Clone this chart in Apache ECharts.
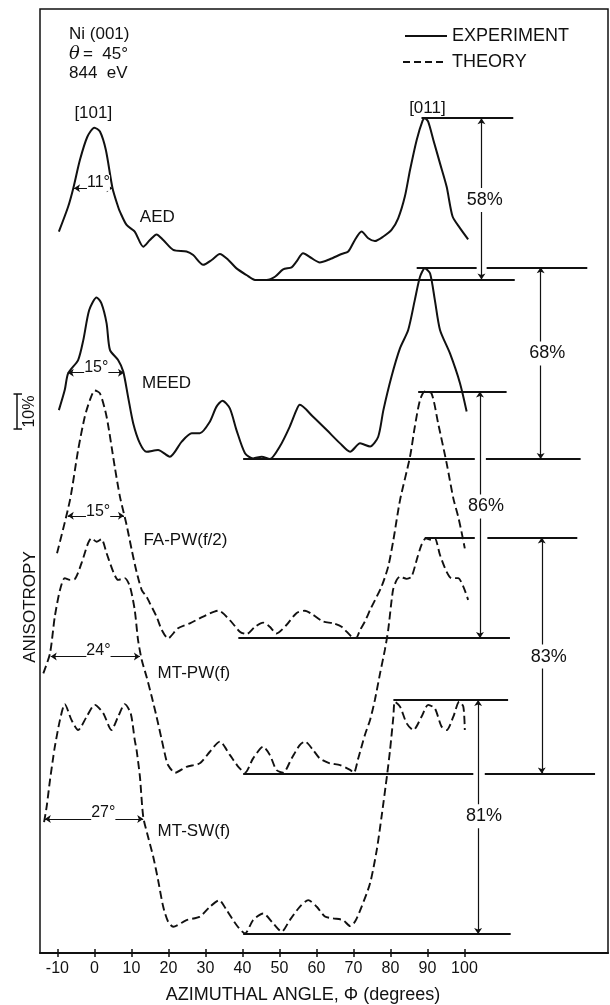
<!DOCTYPE html>
<html>
<head>
<meta charset="utf-8">
<title>Ni(001) azimuthal anisotropy</title>
<script src="https://cdn.jsdelivr.net/npm/echarts@6/dist/echarts.min.js"></script>
<style>
  html, body { margin: 0; padding: 0; background: #fff; }
  #myChart { width: 610px; height: 1005px; }
</style>
</head>
<body>
<div id="myChart"></div>
<script>
  // azimuthal angle ticks (degrees)
  const angleTicks = [-10, 0, 10, 20, 30, 40, 50, 60, 70, 80, 90, 100];

  // curves: [angle, anisotropy] (curves are stacked with an offset, units of %)
  const aed = [[-9.6,206.1],[-7.1,213.2],[-5.7,218.5],[-3.9,226.6],[-1.9,233.2],[0,235.8],[1.5,234.7],[3.1,229.4],[4.9,218.5],[6.4,213.2],[6.9,211.8],[8.7,208],[10.9,206.1],[13.2,201.8],[15,203.7],[16.8,205.3],[18.6,203.7],[21.3,200.9],[24.9,200.4],[26.7,199.4],[29.4,196.6],[31.7,198],[33.9,199.7],[36.2,198],[38.4,195.6],[41.1,193.7],[43.4,192.3],[46.5,192.3],[48.8,193.2],[51,195.3],[53.3,195.9],[54.6,197.5],[56.4,199.9],[58.7,198.5],[60.9,197.3],[63.6,198.2],[66.8,199.7],[68.6,200.4],[70.4,203.7],[72.2,206.1],[74,204.2],[75.8,203.4],[78.1,204.7],[80.3,206.6],[82.1,209.9],[83.9,216.1],[85.3,223.7],[87.1,232.3],[88.7,237.8],[89.3,238.5],[90.2,237.5],[91.6,232.3],[93.4,225.6],[95.2,218.9],[96.8,210.4],[98.8,207.1],[101,203.9]];
  const meed = [[-9.6,155.1],[-8.0,160.9],[-7.1,165.6],[-4.4,169.4],[-3.0,175.1],[-1.4,183.7],[0.6,187.3],[1.9,185.6],[3.3,179.9],[4.2,172.3],[6.4,169.4],[7.8,166.1],[9.1,158.9],[10.5,151.3],[12.3,145.6],[14.1,143.2],[17.2,143.7],[20.4,141.8],[23.6,146.1],[26.3,148.5],[28.5,148.5],[31.2,151.8],[33.0,156.1],[34.6,157.8],[36.6,155.6],[38.4,149.4],[40.7,142.8],[42.9,141.3],[45.2,141.8],[47.4,141.1],[50.1,144.7],[52.8,150.4],[54.6,155.1],[55.5,156.6],[59.1,153.2],[62.8,149.4],[66.4,145.6],[69.1,143.2],[71.8,145.6],[74.5,144.7],[76.7,147.5],[78.1,155.1],[80.3,164.7],[82.6,172.8],[84.8,178],[86.6,186.6],[88.0,193.2],[89.3,195.6],[90.7,194.2],[92.0,186.6],[93.4,178],[96.1,171.3],[98.8,162.8],[100.6,154.7]];
  const faPw = [[-10.1,114.2],[-6.6,129.4],[-4.4,143.7],[-2.6,153.2],[-1.2,158],[0.1,160.7],[1.5,159.9],[3.3,153.2],[5.5,138.9],[6.9,130.4],[8.7,122.3],[10.1,115.1],[11.4,108.9],[12.8,103.7],[14.1,101.8],[15,99.9],[16.8,96.1],[18.2,92.3],[19.9,89.9],[22.6,92.8],[25.8,94.2],[29.4,96.1],[33.5,97.8],[36.6,95.1],[39.3,91.8],[41.1,91.1],[43.4,93.2],[45.6,94.4],[47.4,93.2],[49.2,91.3],[51.9,93.7],[54.6,97.1],[56.9,97.8],[59.1,96.6],[61.8,94.7],[64.5,94.2],[66.8,93.2],[69.5,90.4],[70.7,90],[71.8,92.3],[73.1,94.7],[74.5,98],[77.6,104.7],[79.4,110.4],[80.8,118],[82.6,129.4],[85.3,141.8],[86.6,150.4],[88.0,158],[89.3,160.4],[91.1,159.9],[92.9,151.3],[95.2,139.9],[97.0,129.9],[98.3,124.7],[99.2,120.4],[100.1,115.6]];
  const mtPw = [[-13.8,79.9],[-12.0,85.6],[-10.7,96.1],[-9.3,103.7],[-8.0,107.1],[-6.6,106.6],[-5.3,106.8],[-3.5,111.3],[-1.7,117.1],[-0.8,118.5],[0.6,117.5],[1.9,118.2],[3.3,114.2],[5.1,108.9],[6.4,106.6],[8.2,107.1],[9.6,104.7],[10.9,98],[11.8,89.4],[12.8,83.7],[14.1,78.9],[15.5,73.2],[16.8,67.5],[18.2,60.9],[19.1,56.6],[19.9,53.7],[21.8,51.5],[24.9,53.2],[28.5,54.2],[31.2,57.5],[33.9,60.4],[36.6,56.6],[38.9,53.2],[40.7,51.5],[42.9,55.6],[45.6,58.9],[47.4,56.6],[49.2,52.3],[51.0,51.5],[53.3,55.6],[55.5,59.4],[56.9,60.4],[59.1,58],[60.9,55.6],[63.6,54.2],[66.4,53.7],[69.1,52.3],[70.1,51.5],[71.3,55.6],[73.1,62.3],[74.5,66.6],[75.8,72.3],[77.2,79.9],[78.5,86.6],[79.4,92.3],[80.7,103.7],[81.7,106.6],[82.6,107.5],[84.4,106.9],[85.7,107.5],[87.1,112.3],[88.4,116.6],[89.6,118.5],[91.1,118],[92.0,118.5],[93.4,113.7],[95.2,108.9],[96.5,107.1],[98.3,107.1],[99.7,104.7],[101.0,100.9]];
  const mtSw = [[-13.6,37.4],[-12.9,41.8],[-12.0,49.4],[-11.1,56.1],[-10.7,58.9],[-9.3,66.6],[-8.0,71.1],[-6.2,66.6],[-4.4,63.7],[-2.1,67.5],[0.1,70.9],[2.4,68.5],[4.6,63.7],[6.4,67.5],[8.2,71.1],[9.8,68.5],[10.9,60.9],[11.4,58],[12.3,50.4],[13.2,38.9],[14.5,33.2],[15.9,27.5],[17.2,20.9],[18.6,13.2],[19.9,9],[21.3,7.5],[24.9,9.4],[28.5,10.4],[31.2,13.2],[33.7,15.1],[35.7,12.3],[38.4,8],[40.7,5.6],[42.9,9.4],[45.6,11.3],[48.3,8.5],[50.6,6.1],[52.8,9.4],[55.5,13.2],[57.8,15.1],[60.1,13.2],[62.3,10.4],[64.5,9.9],[67.2,9.4],[69.1,7.7],[70.4,8.9],[72.2,13.2],[74.5,19.9],[76.3,29.4],[77.6,38.9],[79.1,50.9],[79.9,58],[80.8,67.5],[81.2,71.8],[82.6,70.4],[84.4,65.6],[86.2,63.7],[88.4,67.5],[90.2,70.9],[92.0,69.9],[93.8,64.7],[95.2,63.7],[97.0,67.5],[98.6,71.8],[99.7,70.4],[100.1,63.7]];

  // peak / baseline reference lines: [fromAngle, toAngle, level]
  const refLines = [
    [88.4, 113.2, 238.5], [43.4, 113.6, 192.4],
    [87.1, 103.3, 195.9], [106.0, 133.2, 195.9],
    [40.2, 102.8, 141.1], [105.8, 131.4, 141.1],
    [87.5, 111.4, 160.4], [38.9, 112.3, 90.0],
    [89.3, 102.8, 118.7], [106.2, 130.5, 118.7],
    [40.2, 102.4, 51.3], [105.5, 135.3, 51.3],
    [80.8, 111.8, 72.3], [40.2, 112.5, 5.4]
  ];
  // anisotropy arrows: [angle, top, bottom, labelAngle, labelLevel, text]
  const pctArrows = [
    [104.6, 238.5, 192.4, 105.5, 215.1, '58%'],
    [120.6, 195.9, 141.1, 122.4, 171.3, '68%'],
    [104.2, 160.4, 90.0, 105.8, 127.6, '86%'],
    [120.9, 118.7, 51.3, 122.8, 84.7, '83%'],
    [103.7, 72.3, 5.4, 105.3, 39.1, '81%']
  ];
  // peak widths: [leftAngle, rightAngle, level, labelAngle, labelLevel, text]
  const widthMarks = [
    [-5.5, 4.9, 218.5, 1.1, 220.0, '11°'],
    [-7.2, 8.0, 165.8, 0.5, 167.3, '15°'],
    [-7.2, 8.0, 124.9, 1.0, 126.1, '15°'],
    [-11.8, 12.3, 84.7, 1.1, 86.3, '24°'],
    [-13.4, 13.2, 38.3, 2.4, 40.0, '27°']
  ];
  const curveNames = [[17.0, 210.1, 'AED'], [19.5, 162.9, 'MEED'], [24.6, 117.9, 'FA-PW(f/2)'], [26.9, 79.9, 'MT-PW(f)'], [26.9, 34.7, 'MT-SW(f)']];
  const directions = [[-0.3, 239.9, '[101]'], [90, 241.3, '[011]']];
  const scaleBar = [149.7, 159.7]; // 10 %

  const FONT = '"Liberation Sans", Arial, Helvetica, sans-serif';
  const INK = '#111';

  function curve(name, data, dashed) {
    return {
      name: name, type: 'line', data: data, smooth: 0.25, showSymbol: false, symbol: 'none', z: 3,
      lineStyle: { color: INK, width: dashed ? 1.9 : 2, type: dashed ? [8, 4] : 'solid' }
    };
  }
  function texts(items, size, extra) {
    return {
      type: 'scatter', symbolSize: 1, z: 10, silent: true,
      itemStyle: { color: 'rgba(0,0,0,0)', opacity: 1 },
      data: items.map(t => ({ value: [t[0], t[1]], name: t[2] })),
      label: Object.assign({ show: true, position: 'inside', formatter: '{b}', color: INK, opacity: 1, fontSize: size, fontFamily: FONT }, extra || {})
    };
  }

  let myChart = echarts.init(document.getElementById('myChart'));
  let option = {
    backgroundColor: '#fff',
    animation: false,
    grid: { left: 40, right: 2, top: 9, bottom: 52, show: true, borderColor: INK, borderWidth: 1.5 },
    xAxis: [
      {
        type: 'value', min: -14.7, max: 138.8, position: 'bottom',
        axisLine: { lineStyle: { color: INK, width: 2 } },
        axisTick: { customValues: angleTicks, length: 4, lineStyle: { color: INK, width: 1.5 } },
        axisLabel: { customValues: angleTicks, color: INK, fontSize: 16, fontFamily: FONT, margin: 8 },
        splitLine: { show: false }
      },
      {
        type: 'value', min: -14.7, max: 138.8, position: 'bottom',
        axisLine: { show: false },
        axisTick: { customValues: angleTicks, inside: true, length: 4, lineStyle: { color: INK, width: 1.5 } },
        axisLabel: { show: false },
        splitLine: { show: false }
      }
    ],
    yAxis: { type: 'value', min: 0, max: 269.7, show: false },
    series: [
      curve('AED', aed, false),
      curve('MEED', meed, false),
      curve('FA-PW(f/2)', faPw, true),
      curve('MT-PW(f)', mtPw, true),
      curve('MT-SW(f)', mtSw, true),
      {
        type: 'lines', coordinateSystem: 'cartesian2d', silent: true, z: 2,
        symbol: ['none', 'none'],
        lineStyle: { color: INK, width: 2, opacity: 1, curveness: 0 },
        data: refLines.map(r => ({ coords: [[r[0], r[2]], [r[1], r[2]]] }))
      },
      {
        type: 'lines', coordinateSystem: 'cartesian2d', silent: true, z: 2,
        symbol: ['arrow', 'arrow'], symbolSize: 6,
        lineStyle: { color: INK, width: 1.2, opacity: 1, curveness: 0 },
        data: pctArrows.map(a => ({ coords: [[a[0], a[1]], [a[0], a[2]]] }))
          .concat(widthMarks.map(w => ({ coords: [[w[0], w[2]], [w[1], w[2]]] })))
      },
      texts(curveNames, 17),
      texts(directions, 17),
      texts(pctArrows.map(a => [a[3], a[4], a[5]]), 18, { backgroundColor: '#fff', padding: [3, 1] }),
      texts(widthMarks.map(w => [w[3], w[4], w[5]]), 16, { backgroundColor: '#fff', padding: [0, 0] })
    ]
  };
  myChart.setOption(option);

  // 10 % scale bar, placed with the y scale
  const barTop = myChart.convertToPixel({ yAxisIndex: 0 }, scaleBar[1]);
  const barBottom = myChart.convertToPixel({ yAxisIndex: 0 }, scaleBar[0]);

  function txt(x, y, text, size, extra) {
    return Object.assign({
      type: 'text', x: x, y: y, silent: true,
      style: { text: text, fill: INK, font: size + 'px ' + FONT, align: 'left', verticalAlign: 'middle', textAlign: 'left', textVerticalAlign: 'middle' }
    }, extra || {});
  }
  function seg(x1, y1, x2, y2, w, dash) {
    return { type: 'line', silent: true, shape: { x1: x1, y1: y1, x2: x2, y2: y2 }, style: { stroke: INK, lineWidth: w, lineDash: dash || null } };
  }

  myChart.setOption({
    graphic: [
      txt(69, 34, 'Ni (001)', 17),
      { type: 'text', x: 69, y: 54, silent: true, style: { text: 'θ', fill: INK, font: 'italic 18px "DejaVu Serif", serif', align: 'left', verticalAlign: 'middle', textAlign: 'left', textVerticalAlign: 'middle' } },
      txt(83, 54, '=  45°', 17),
      txt(69, 73, '844  eV', 17),
      seg(405, 36, 447, 36, 1.8),
      txt(452, 36, 'EXPERIMENT', 18),
      seg(403, 62, 447, 62, 1.8, [7, 4]),
      txt(452, 62, 'THEORY', 18),
      seg(17, barTop, 17, barBottom, 1.5),
      seg(13.5, barTop, 22, barTop, 1.5),
      seg(13.5, barBottom, 22, barBottom, 1.5),
      { type: 'text', x: 30, y: (barTop + barBottom) / 2, rotation: Math.PI / 2, silent: true,
        style: { text: '10%', fill: INK, font: '16px ' + FONT, align: 'center', verticalAlign: 'middle', textAlign: 'center', textVerticalAlign: 'middle' } },
      { type: 'text', x: 30, y: 607, rotation: Math.PI / 2, silent: true,
        style: { text: 'ANISOTROPY', fill: INK, font: '17px ' + FONT, align: 'center', verticalAlign: 'middle', textAlign: 'center', textVerticalAlign: 'middle' } },
      { type: 'text', x: 303, y: 995, silent: true,
        style: { text: 'AZIMUTHAL ANGLE, Φ (degrees)', fill: INK, font: '18px ' + FONT, align: 'center', verticalAlign: 'middle', textAlign: 'center', textVerticalAlign: 'middle' } }
    ]
  });
</script>
</body>
</html>
